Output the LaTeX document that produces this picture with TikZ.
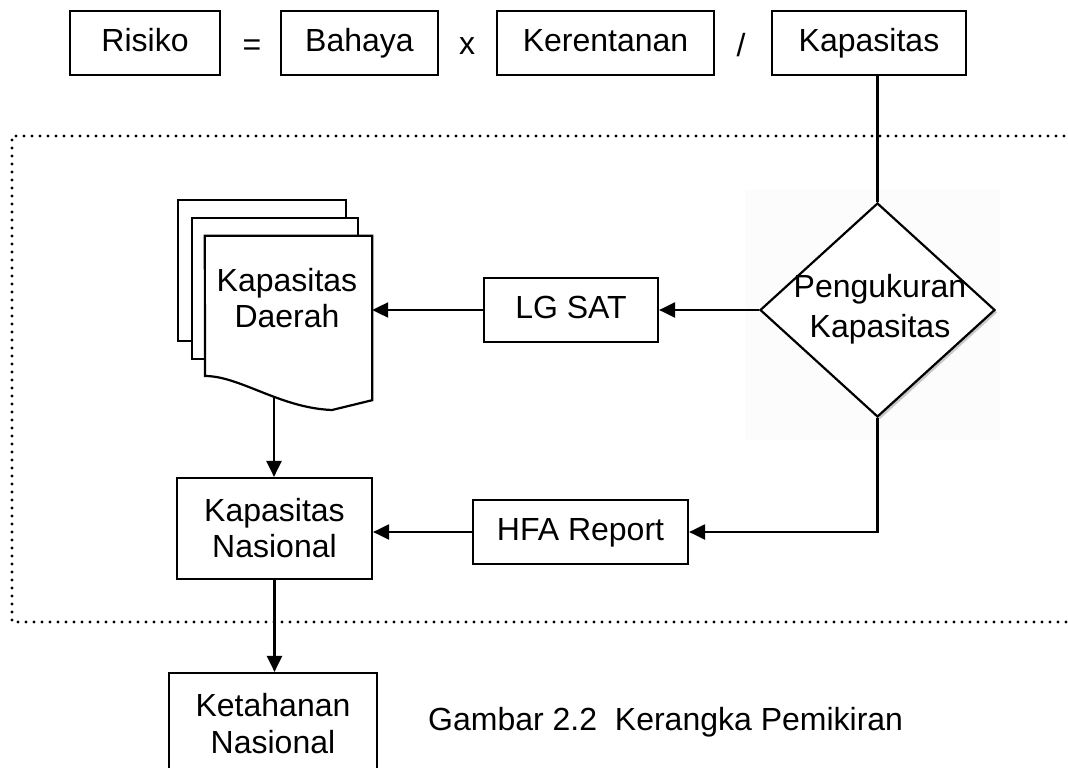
\documentclass[tikz,border=0pt]{standalone}
\usepackage{fontspec}
\setmainfont{Liberation Sans}
\usetikzlibrary{shapes.geometric,arrows.meta,shadows}
\begin{document}
\begin{tikzpicture}[x=1pt,y=-1pt,
  every node/.style={font=\fontsize{32}{36}\selectfont},
  box/.style={draw,line width=2.2pt,inner sep=0pt},
  oneline/.style={box,text height=23pt,text depth=6pt},
  twoline/.style={box,align=center},
  plain/.style={inner sep=0pt},
  conn/.style={line width=2.2pt},
  arr/.style={conn,-{Triangle[length=16pt,width=15pt]}},
  dotframe/.style={line width=3.3pt,line cap=round,dash pattern=on 0pt off 8pt}
]
\path[use as bounding box,clip] (0,0) rectangle (1068,768);
\fill[white] (0,0) rectangle (1068,768);

% top formula row
\node[oneline,minimum width=150pt,minimum height=64pt] (risiko) at (145,43) {Risiko};
\node[plain,anchor=base] (eq) at (252,56) {=};
\node[oneline,minimum width=157pt,minimum height=64pt] (bahaya) at (359.5,43) {Bahaya};
\node[plain,anchor=base] (times) at (467,55) {x};
\node[oneline,minimum width=217pt,minimum height=64pt] (kerentanan) at (605.5,43) {Kerentanan};
\node[plain,anchor=base] (slash) at (741,57) {/};
\node[oneline,minimum width=194pt,minimum height=64pt] (kapasitas) at (869,43) {Kapasitas};

% dotted frame (open to the right)
\draw[dotframe] (1080,136) -- (12,136) -- (12,622) -- (1080,622);

% faint background behind the diamond
\fill[black!1] (745,190) rectangle (1000,440);

% diamond
\node[draw,line width=2.2pt,shape=diamond,inner sep=0pt,minimum width=235pt,minimum height=214pt,
      fill=white,drop shadow={shadow xshift=2.5pt,shadow yshift=-2.5pt,fill=black!35,opacity=0.6}] (dia) at (877.5,310) {};
\node[plain,align=center,font=\fontsize{32}{40}\selectfont] (diatext) at (880,309) {Pengukuran\\Kapasitas};

% document stack
\draw[line width=2.2pt,fill=white] (178,200) rectangle (346,341);
\draw[line width=2.2pt,fill=white] (192,218) rectangle (358,359);
\node[minimum width=167pt,minimum height=164pt,inner sep=0pt] (page) at (288.5,318) {};
\draw[line width=2.2pt,fill=white] (page.north west) -- (page.north east) -- (page.south east)
   -- (332,410) .. controls (280,408) and (240,376) .. (205,376) -- cycle;
\node[plain,align=center] (daerah) at (287,298.5) {Kapasitas\\Daerah};
\coordinate (dbot) at (274,396);

% other boxes
\node[oneline,minimum width=174pt,minimum height=64pt] (lgsat) at (571,310) {LG SAT};
\node[oneline,minimum width=215pt,minimum height=64pt] (hfa) at (580.5,532) {HFA Report};
\node[twoline,minimum width=195pt,minimum height=101pt] (knas) at (274.5,528.5) {Kapasitas\\Nasional};
\node[twoline,minimum width=208pt,minimum height=101pt,font=\fontsize{32}{37}\selectfont] (ket) at (273,723.5) {Ketahanan\\Nasional};

% caption
\node[plain,anchor=base west] (caption) at (428,730) {Gambar 2.2\ \ Kerangka Pemikiran};

% connectors
\draw[conn] (kapasitas.south -| dia.north) -- (dia.north);
\draw[arr] (dia.west) -- (lgsat.east);
\draw[arr] (lgsat.west) -- (lgsat.west -| page.east);
\draw[arr] (dbot) -- (dbot |- knas.north);
\draw[arr] (dia.south) |- (hfa.east);
\draw[arr] (hfa.west) -- (hfa.west -| knas.east);
\draw[arr] (knas.south) -- (knas.south |- ket.north);
\end{tikzpicture}
\end{document}
